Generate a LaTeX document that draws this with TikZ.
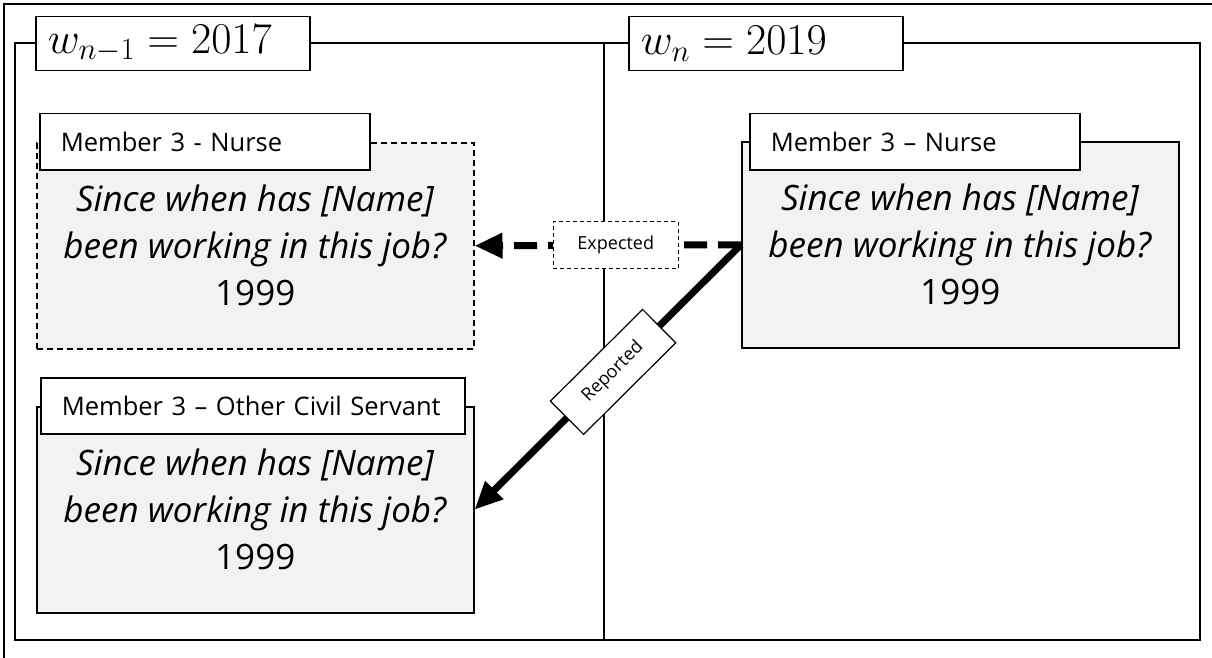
\RequirePackage{fix-cm}
\documentclass[tikz,border=0pt]{standalone}
\usepackage{fontspec}
\setmainfont{Open Sans}
\usetikzlibrary{arrows.meta,positioning}
\definecolor{boxgray}{HTML}{F2F2F2}
\tikzset{
    panel/.style={draw=black, line width=1.5pt},
    title/.style={draw=black, fill=white, line width=1.5pt, anchor=north west,
        minimum height=54pt, inner xsep=12pt, text width=250pt, align=left,
        font=\fontsize{44}{48}\selectfont},
    question/.style={draw=black, fill=boxgray, line width=1.5pt, anchor=north west,
        minimum width=437pt, minimum height=206pt, align=center,
        font=\fontsize{35}{47}\selectfont},
    header/.style={draw=black, fill=white, line width=1.5pt, anchor=north west,
        minimum height=56pt, inner xsep=21pt, align=left,
        font=\fontsize{25.5}{30}\selectfont},
    tag/.style={draw=black, fill=white, line width=1.2pt, solid,
        minimum width=125pt, minimum height=47pt, inner sep=2pt,
        font=\fontsize{18}{22}\selectfont},
    expected/.style={draw=black, line width=7pt, dash pattern=on 23pt off 11pt,
        -{Triangle[length=28pt,width=24pt]}},
    reported/.style={draw=black, line width=7pt,
        -{Triangle[length=28pt,width=24pt]}},
}
\begin{document}
\begin{tikzpicture}[x=1pt, y=-1pt]
	\useasboundingbox (0,0) rectangle (1212,658);
	\draw[panel] (4,658) -- (4,4) -- (1212,4);
	\draw[panel] (15,43) rectangle (604,640);
	\draw[panel] (604,43) rectangle (1200,640);
	\node[title] (waveA) at (35,16) {$w_{n-1}=2017$};
	\node[title] (waveB) at (628,16) {$w_n=2019$};
	% wave n-1
	\node[question, dash pattern=on 6pt off 4pt] (nurseA) at (36,142)
		{\textit{Since when has [Name]}\\\textit{been working in this job?}\\1999};
	\node[header, text width=288pt] (headA) at (39,113) {\mbox{Member 3 - Nurse}};
	\node[question] (civil) at (36,406)
		{\textit{Since when has [Name]}\\\textit{been working in this job?}\\1999};
	\node[header, text width=382pt] (headC) at (40,377) {\mbox{Member 3 -- Other Civil Servant}};
	% wave n
	\node[question] (nurseB) at (741,141)
		{\textit{Since when has [Name]}\\\textit{been working in this job?}\\1999};
	\node[header, text width=288pt] (headB) at (749,113) {\mbox{Member 3 -- Nurse}};
	% edits
	\draw[expected] (nurseB.west) -- (nurseA.east)
		node[tag, pos=0.47, dash pattern=on 4pt off 3pt] (exp) {Expected};
	\draw[reported] (nurseB.west) -- (civil.east)
		node[tag, pos=0.48, sloped, minimum width=130pt] (rep) {Reported};
\end{tikzpicture}
\end{document}
